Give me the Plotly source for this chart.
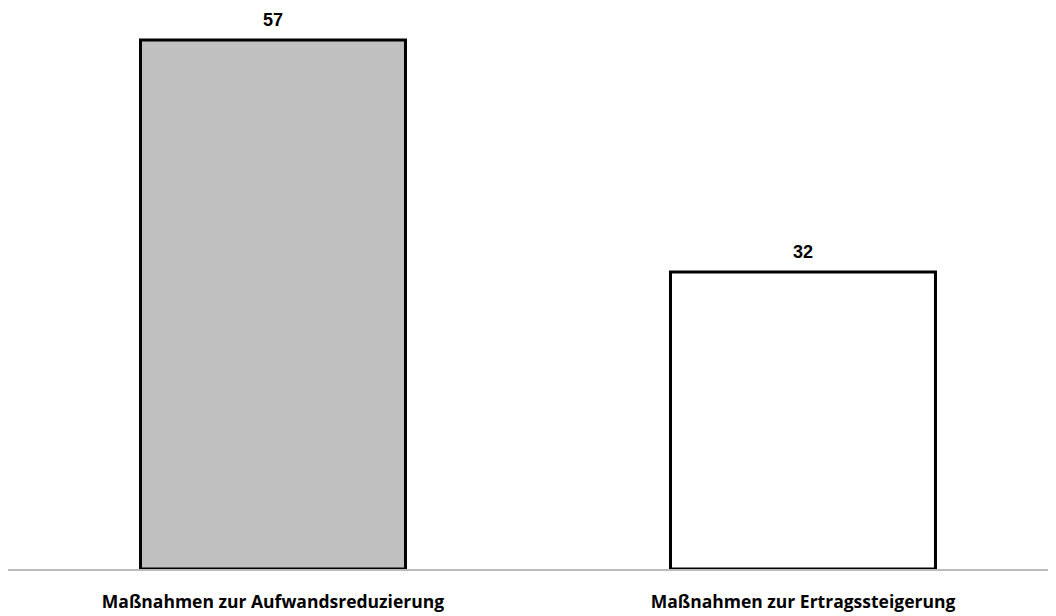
import plotly.graph_objects as go

categories = ["Maßnahmen zur Aufwandsreduzierung", "Maßnahmen zur Ertragssteigerung"]
values = [57, 32]
bar_colors = ["#c0c0c0", "#ffffff"]

fig = go.Figure()
fig.add_trace(go.Bar(
    x=categories,
    y=values,
    marker=dict(color=bar_colors, line=dict(color="#000000", width=3)),
    hoverinfo="skip",
))

for c, v in zip(categories, values):
    fig.add_annotation(
        x=c, y=v, text=f"<b>{v}</b>", showarrow=False,
        yanchor="bottom", yshift=8,
        font=dict(family="Liberation Sans, Arial, sans-serif", size=18, color="#000000"),
    )

fig.update_layout(
    width=1048, height=608,
    margin=dict(l=0, r=0, t=0, b=46.5, autoexpand=False),
    paper_bgcolor="white", plot_bgcolor="white",
    bargap=0.5,
    showlegend=False,
    xaxis=dict(
        range=[-0.5, 1.4774],
        automargin=False,
        showline=True, linecolor="#bbbbbb", linewidth=1.5,
        showgrid=False, zeroline=False,
        ticks="outside", ticklen=16, tickcolor="rgba(0,0,0,0)",
        tickfont=dict(family="Open Sans, sans-serif", size=17.5, color="#000000"),
        tickprefix="<b>", ticksuffix="</b>",
    ),
    yaxis=dict(
        range=[0, 60.45], visible=False, showgrid=False, zeroline=False,
        automargin=False,
    ),
)

fig.write_html("out.html")
